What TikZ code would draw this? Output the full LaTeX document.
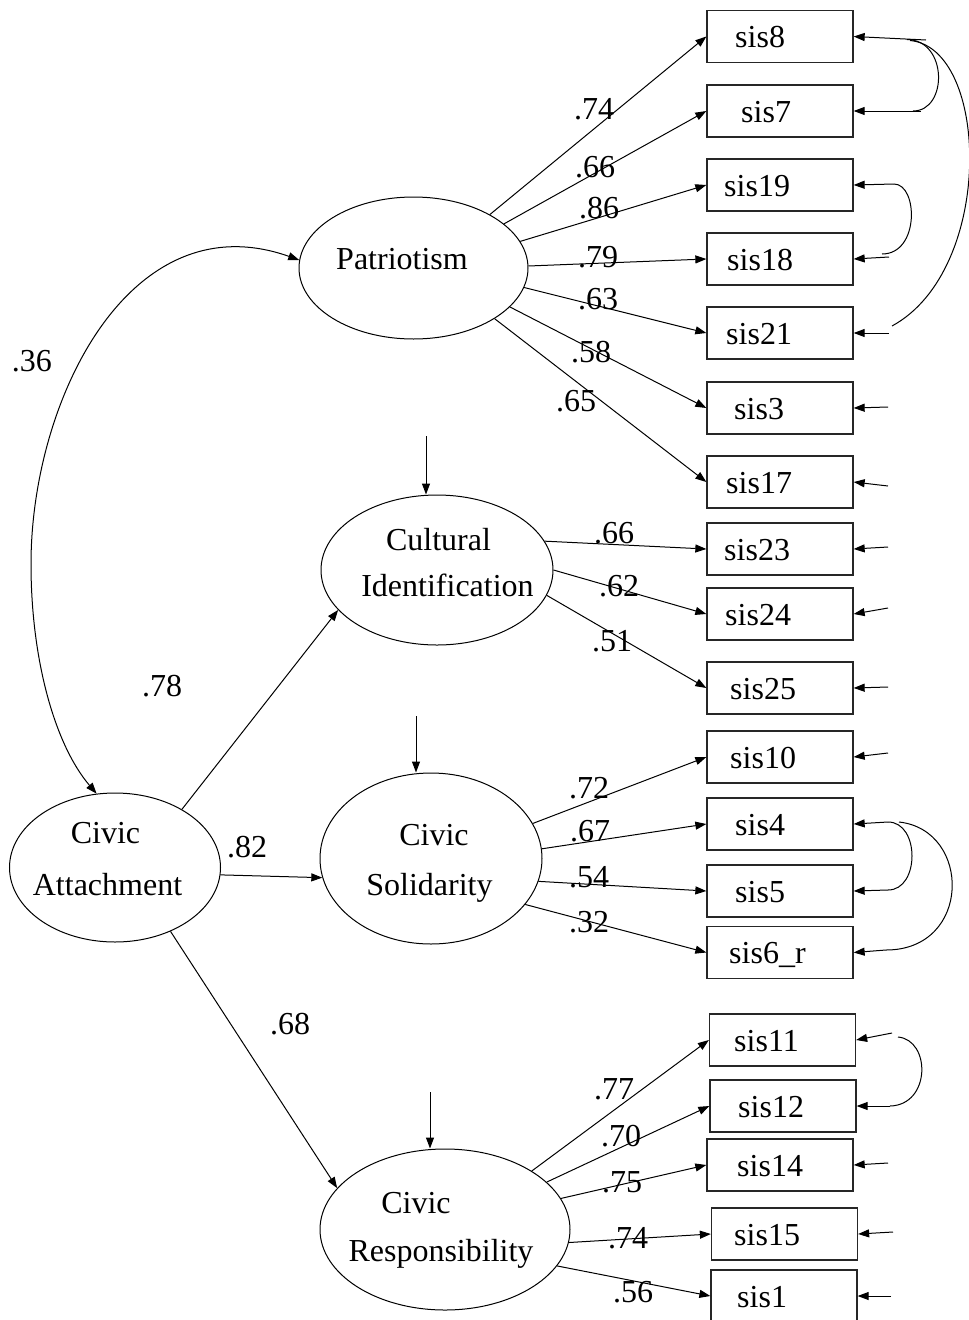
\documentclass[tikz,border=0pt]{standalone}
\usepackage{fontspec}
\setmainfont{Liberation Serif}
\usetikzlibrary{arrows.meta,shapes.geometric}
\begin{document}
\begin{tikzpicture}[x=1pt,y=-1pt,
  lat/.style={draw,ellipse,inner sep=0pt,line width=1pt},
  obs/.style={draw=black!85,rectangle,inner sep=0pt,minimum width=146pt,minimum height=52pt,line width=1.3pt},
  txt/.style={inner sep=0pt,font=\fontsize{32}{38}\selectfont},
  coef/.style={txt,anchor=base},
  reg/.style={-{Triangle[length=11pt,width=8pt]},line width=1pt},
  cov/.style={{Triangle[length=11pt,width=8pt]}-{Triangle[length=11pt,width=8pt]},line width=1pt},
  link/.style={line width=1pt}]

\path[use as bounding box,fill=white] (0,0) rectangle (969,1320);

% latent factors
\node[lat,minimum width=229pt,minimum height=142pt] (pat)  at (413.5,268)  {};
\node[lat,minimum width=232pt,minimum height=150pt] (cult) at (437,570)    {};
\node[lat,minimum width=222pt,minimum height=171pt] (sol)  at (431,858.5)  {};
\node[lat,minimum width=211pt,minimum height=149pt] (ca)   at (115,867.5)  {};
\node[lat,minimum width=250pt,minimum height=161pt] (resp) at (445,1229.5) {};

\node[txt,anchor=base] (patT)   at (402,269)   {Patriotism};
\node[txt,anchor=base] (cultT1) at (438.5,550) {Cultural};
\node[txt,anchor=base] (cultT2) at (447.5,596) {Identification};
\node[txt,anchor=base] (solT1)  at (434,845)   {Civic};
\node[txt,anchor=base] (solT2)  at (429.5,895) {Solidarity};
\node[txt,anchor=base] (caT1)   at (105.5,843) {Civic};
\node[txt,anchor=base] (caT2)   at (107.5,895) {Attachment};
\node[txt,anchor=base] (respT1) at (416,1213)  {Civic};
\node[txt,anchor=base] (respT2) at (441,1261)  {Responsibility};

% observed items
\foreach \n/\cx/\cy/\tx/\lab in {
  8/780/36.5/735/sis8, 7/780/111/741/sis7, 19/780/185/724/sis19,
  18/780/259/727/sis18, 21/780/333/726/sis21, 3/780/408/734/sis3,
  17/780/482/726/sis17, 23/780/549/724/sis23, 24/780/614/725/sis24,
  25/780/688/730/sis25, 10/780/757/730/sis10, 4/780/824/735/sis4,
  5/780/891/735/sis5, 6/780/952.5/729/sis6\_r, 11/782.5/1040/734/sis11,
  12/783/1106/738/sis12, 14/780/1165/737/sis14, 15/784.5/1234/734/sis15,
  1/784/1296/737/sis1}{
  \node[obs] (b\n) at (\cx,\cy) {};
  \node[txt,anchor=base west] (t\n) at (\tx,\cy+11) {\lab};
}

% error terms of the items
\foreach \n/\ex/\ey in {8/926/40, 7/921/111, 19/894/184, 18/889/257,
  21/889/333, 3/888/407, 17/888/486, 23/888/547, 24/888/608, 25/888/687,
  10/888/753, 4/888/822, 5/888/890, 6/886/950, 11/892/1033, 12/890/1106,
  14/888/1163, 15/893/1232, 1/891/1296}{
  \coordinate (e\n) at (\ex,\ey);
  \draw[reg] (e\n) -- (b\n.east);
}

% correlated errors
\coordinate (k8a) at (907,39.5);
\coordinate (k8b) at (910,40.5);
\coordinate (k7)  at (913,111);
\coordinate (k21) at (892,326);
\coordinate (k18) at (882,254);
\coordinate (k4)  at (899,822);
\coordinate (k11) at (898,1037);
\draw[link] (k8a) .. controls (948,40) and (948,111) .. (k7);
\draw[link] (k8b) .. controls (990,48) and (995,270) .. (k21);
\draw[link] (e19) .. controls (918,184) and (920,254) .. (k18);
\draw[link] (e4) .. controls (920,822) and (920,890) .. (e5);
\draw[link] (k4) .. controls (972,830) and (972,950) .. (e6);
\draw[link] (k11) .. controls (931,1040) and (931,1105) .. (e12);

% disturbances
\coordinate (dcult) at (426,436);
\coordinate (dsol)  at (416,716);
\coordinate (dresp) at (430,1092);
\draw[reg] (dcult) -- (dcult |- cult.north);
\draw[reg] (dsol) -- (dsol |- sol.north);
\draw[reg] (dresp) -- (dresp |- resp.north);

% factor covariance
\coordinate (cvl) at (31,564);
\draw[cov] (ca.104) .. controls (55,745) and (31,660) .. (cvl)
  .. controls (31,400) and (130,200) .. (pat.176);

% second-order paths
\draw[reg] (ca.41) -- (cult.202);
\draw[reg] (ca.-4) -- (sol.190);
\draw[reg] (ca.-49) -- (resp.159);

% loadings
\draw[reg] (pat.35)  -- (b8.west);
\draw[reg] (pat.26)  -- (b7.west);
\draw[reg] (pat.14)  -- (b19.west);
\draw[reg] (pat.1)   -- (b18.west);
\draw[reg] (pat.-10) -- (b21.west);
\draw[reg] (pat.-22) -- (b3.west);
\draw[reg] (pat.-32) -- (b17.west);
\draw[reg] (cult.15)  -- (b23.west);
\draw[reg] (cult.0)   -- (b24.west);
\draw[reg] (cult.-13) -- (b25.west);
\draw[reg] (sol.19)  -- (b10.west);
\draw[reg] (sol.5)   -- (b4.west);
\draw[reg] (sol.-12) -- (b5.west);
\draw[reg] (sol.-26) -- (b6.west);
\draw[reg] (resp.34) -- (b11.west);
\draw[reg] (resp.25) -- (b12.west);
\draw[reg] (resp.15) -- (b14.west);
\draw[reg] (resp.-6) -- (b15.west);
\draw[reg] (resp.-18) -- (b1.west);

% coefficients
\node[coef] (l8)  at (594,119)  {.74};
\node[coef] (l7)  at (595,177)  {.66};
\node[coef] (l19) at (599,218)  {.86};
\node[coef] (l18) at (598,267)  {.79};
\node[coef] (l21) at (598,309)  {.63};
\node[coef] (l3)  at (591,362)  {.58};
\node[coef] (l17) at (576,411)  {.65};
\node[coef] (l23) at (614,543)  {.66};
\node[coef] (l24) at (619,596)  {.62};
\node[coef] (l25) at (612,651)  {.51};
\node[coef] (l10) at (589,798)  {.72};
\node[coef] (l4)  at (590,841)  {.67};
\node[coef] (l5)  at (589,887)  {.54};
\node[coef] (l6)  at (589,932)  {.32};
\node[coef] (l11) at (614,1099) {.77};
\node[coef] (l12) at (621,1146) {.70};
\node[coef] (l14) at (622,1192) {.75};
\node[coef] (l15) at (628,1248) {.74};
\node[coef] (l1)  at (633,1302) {.56};
\node[coef] (lcv)   at (32,371)   {.36};
\node[coef] (lcult) at (162,696)  {.78};
\node[coef] (lsol)  at (247,857)  {.82};
\node[coef] (lresp) at (290,1034) {.68};
\end{tikzpicture}
\end{document}
